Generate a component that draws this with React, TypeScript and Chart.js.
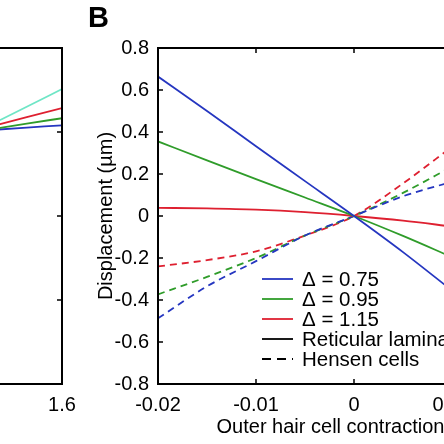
import React, { useEffect, useRef } from 'react';
import { Chart, registerables } from 'chart.js';
Chart.register(...registerables);

const FONT = "'Liberation Sans', Arial, Helvetica, sans-serif";
Chart.defaults.font.family = FONT;
Chart.defaults.color = '#000';

// ---------- Panel B data ----------
const xB = [-0.02, -0.015, -0.01, -0.005, 0, 0.005, 0.01];
const rl075 = [0.664, 0.5, 0.332, 0.166, 0, -0.172, -0.355];
const rl095 = [0.355, 0.265, 0.176, 0.088, 0, -0.095, -0.196];
const rl115 = [0.039, 0.036, 0.03, 0.018, 0, -0.022, -0.05];
const hc075 = [-0.487, -0.335, -0.215, -0.093, 0, 0.094, 0.163];
const hc095 = [-0.373, -0.29, -0.2, -0.093, 0, 0.11, 0.235];
const hc115 = [-0.24, -0.21, -0.168, -0.093, 0, 0.155, 0.33];
const xTicksB = [-0.02, -0.01, 0, 0.01, 0.02];
const yTicksB = [-0.8, -0.6, -0.4, -0.2, 0, 0.2, 0.4, 0.6, 0.8];
const xTitleB = 'Outer hair cell contraction (µm)';
const yTitleB = 'Displacement (µm)';
const legendLabels = ['Δ = 0.75', 'Δ = 0.95', 'Δ = 1.15', 'Reticular lamina', 'Hensen cells'];

// ---------- Panel A data (partially visible) ----------
const xA = [1.4, 1.5, 1.6];
const aCyan = [0.773, 0.825, 0.878];
const aRed = [0.767, 0.794, 0.821];
const aGreen = [0.758, 0.775, 0.791];
const aBlue = [0.756, 0.763, 0.77];
const xTicksA = [1.6];
const yTicksA = [0, 0.25, 0.5, 0.75, 1];

const BLUE = '#2536c0';
const GREEN = '#2f9c2a';
const RED = '#de2030';
const CYAN = '#6fe6c6';
const legendColors = [BLUE, GREEN, RED, '#000', '#000'];
const legendDashed = [false, false, false, false, true];

const pts = (xs: number[], ys: number[]) => xs.map((x, i) => ({ x, y: ys[i] }));

const framePlugin = {
  id: 'frame',
  afterDraw(chart: any) {
    const { ctx, chartArea } = chart;
    const { left, right, top, bottom } = chartArea;
    const x = chart.scales.x;
    const y = chart.scales.y;
    ctx.save();
    ctx.strokeStyle = '#000';
    ctx.lineWidth = 1.5;
    ctx.setLineDash([]);
    const tl = 5;
    ctx.beginPath();
    x.ticks.forEach((t: any) => {
      const px = x.getPixelForValue(t.value);
      ctx.moveTo(px, bottom);
      ctx.lineTo(px, bottom - tl);
      ctx.moveTo(px, top);
      ctx.lineTo(px, top + tl);
    });
    y.ticks.forEach((t: any) => {
      const py = y.getPixelForValue(t.value);
      ctx.moveTo(left, py);
      ctx.lineTo(left + tl, py);
      ctx.moveTo(right, py);
      ctx.lineTo(right - tl, py);
    });
    ctx.stroke();
    ctx.lineWidth = 2;
    ctx.strokeRect(left, top, right - left, bottom - top);
    ctx.restore();
  },
};

const legendPlugin = {
  id: 'innerLegend',
  afterDraw(chart: any) {
    const opts = chart.options.plugins.innerLegend;
    if (!opts || !opts.show) return;
    const { ctx, chartArea } = chart;
    const x0 = chartArea.left + 104;
    const y0 = chartArea.top + 231;
    ctx.save();
    ctx.font = `20.5px ${FONT}`;
    ctx.textBaseline = 'middle';
    ctx.textAlign = 'left';
    legendLabels.forEach((label, i) => {
      const yy = y0 + i * 20;
      ctx.strokeStyle = legendColors[i];
      ctx.lineWidth = 1.8;
      ctx.setLineDash(legendDashed[i] ? [9, 6] : []);
      ctx.beginPath();
      ctx.moveTo(x0, yy);
      ctx.lineTo(x0 + 31, yy);
      ctx.stroke();
      ctx.fillStyle = '#000';
      ctx.fillText(label, x0 + 40, yy + 1);
    });
    ctx.restore();
  },
};

function lineDs(data: any, color: string, dashed: boolean) {
  return {
    data,
    borderColor: color,
    borderWidth: 1.8,
    borderDash: dashed ? [7, 5] : [],
    pointRadius: 0,
    fill: false,
    cubicInterpolationMode: 'monotone',
  };
}

function ChartB() {
  const ref = useRef<HTMLCanvasElement>(null);
  useEffect(() => {
    const chart = new Chart(ref.current as HTMLCanvasElement, {
      type: 'line',
      data: {
        datasets: [
          lineDs(pts(xB, rl075), BLUE, false),
          lineDs(pts(xB, rl095), GREEN, false),
          lineDs(pts(xB, rl115), RED, false),
          lineDs(pts(xB, hc075), BLUE, true),
          lineDs(pts(xB, hc095), GREEN, true),
          lineDs(pts(xB, hc115), RED, true),
        ] as any,
      },
      options: {
        responsive: false,
        animation: false,
        layout: { padding: { left: 90, right: 30, top: 48, bottom: 1 } },
        plugins: {
          legend: { display: false },
          tooltip: { enabled: false },
          innerLegend: { show: true },
        } as any,
        scales: {
          x: {
            type: 'linear',
            min: -0.02,
            max: 0.02,
            afterBuildTicks: (s: any) => {
              s.ticks = xTicksB.map((v) => ({ value: v }));
            },
            afterFit: (s: any) => {
              s.height = 59;
            },
            grid: { display: false, drawTicks: false, tickLength: 0 },
            border: { display: false },
            ticks: {
              autoSkip: false,
              maxRotation: 0,
              padding: 9,
              font: { size: 20 },
              callback: (v: any) => String(Number(Number(v).toFixed(3))),
            },
            title: { display: true, text: xTitleB, font: { size: 20 }, padding: { top: 4, bottom: 4 } },
          },
          y: {
            type: 'linear',
            min: -0.8,
            max: 0.8,
            afterBuildTicks: (s: any) => {
              s.ticks = yTicksB.map((v) => ({ value: v }));
            },
            afterFit: (s: any) => {
              s.width = 68;
            },
            grid: { display: false, drawTicks: false, tickLength: 0 },
            border: { display: false },
            ticks: {
              autoSkip: false,
              padding: 9,
              font: { size: 20 },
              callback: (v: any) => String(Number(Number(v).toFixed(1))),
            },
            title: { display: true, text: yTitleB, font: { size: 20 }, padding: { top: 4, bottom: 4 } },
          },
        },
      } as any,
      plugins: [framePlugin, legendPlugin],
    });
    return () => chart.destroy();
  }, []);
  return (
    <canvas
      ref={ref}
      width={580}
      height={444}
      style={{ position: 'absolute', left: 0, top: 0, width: 580, height: 444 }}
    />
  );
}

function ChartA() {
  const ref = useRef<HTMLCanvasElement>(null);
  useEffect(() => {
    const chart = new Chart(ref.current as HTMLCanvasElement, {
      type: 'line',
      data: {
        datasets: [
          lineDs(pts(xA, aCyan), CYAN, false),
          lineDs(pts(xA, aRed), RED, false),
          lineDs(pts(xA, aGreen), GREEN, false),
          lineDs(pts(xA, aBlue), BLUE, false),
        ] as any,
      },
      options: {
        responsive: false,
        animation: false,
        layout: { padding: { left: 0, right: 30, top: 48, bottom: 1 } },
        plugins: { legend: { display: false }, tooltip: { enabled: false } },
        scales: {
          x: {
            type: 'linear',
            min: 0.8,
            max: 1.6,
            afterBuildTicks: (s: any) => {
              s.ticks = xTicksA.map((v) => ({ value: v }));
            },
            afterFit: (s: any) => {
              s.height = 59;
            },
            grid: { display: false, drawTicks: false, tickLength: 0 },
            border: { display: false },
            ticks: {
              autoSkip: false,
              maxRotation: 0,
              padding: 9,
              font: { size: 20 },
              callback: (v: any) => String(Number(Number(v).toFixed(1))),
            },
          },
          y: {
            type: 'linear',
            min: 0,
            max: 1,
            afterBuildTicks: (s: any) => {
              s.ticks = yTicksA.map((v) => ({ value: v }));
            },
            afterFit: (s: any) => {
              s.width = 40;
            },
            grid: { display: false, drawTicks: false, tickLength: 0 },
            border: { display: false },
            ticks: { display: false },
          },
        },
      } as any,
      plugins: [framePlugin],
    });
    return () => chart.destroy();
  }, []);
  return (
    <canvas
      ref={ref}
      width={352}
      height={444}
      style={{ position: 'absolute', left: -260, top: 0, width: 352, height: 444 }}
    />
  );
}

export default function App() {
  return (
    <div
      style={{
        position: 'fixed',
        left: 0,
        top: 0,
        width: 444,
        height: 444,
        overflow: 'hidden',
        background: '#fff',
      }}
    >
      <ChartA />
      <ChartB />
      <div
        style={{
          position: 'absolute',
          left: 88,
          top: 3,
          fontFamily: FONT,
          fontWeight: 'bold',
          fontSize: 29,
          lineHeight: '29px',
          color: '#000',
        }}
      >
        B
      </div>
    </div>
  );
}
